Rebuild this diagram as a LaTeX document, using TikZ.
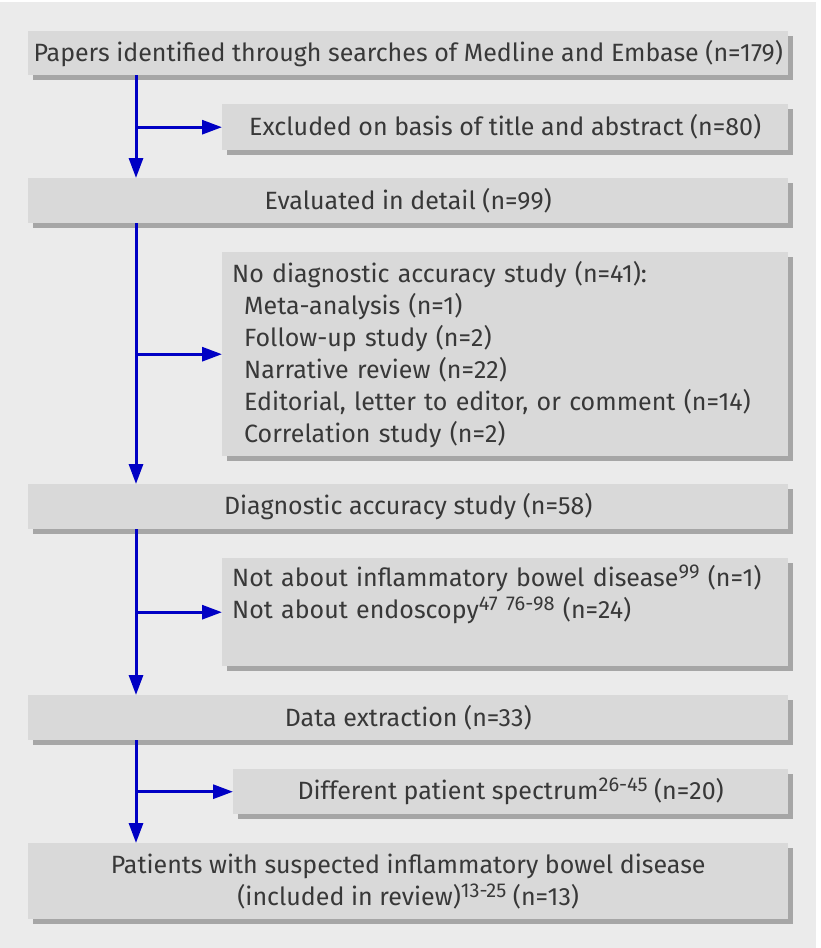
\documentclass[tikz,border=0pt]{standalone}
\usepackage{fontspec}
\setmainfont{Fira Sans}
\usetikzlibrary{arrows.meta,shadows}
\definecolor{panel}{HTML}{EBEBEB}
\definecolor{boxfill}{HTML}{D9D9D9}
\definecolor{shadowc}{HTML}{A6A6A6}
\definecolor{txt}{HTML}{383838}
\definecolor{arrowc}{HTML}{0000C4}
\tikzset{
  box/.style={anchor=north west, fill=boxfill, draw=none, inner sep=0pt,
    text=txt, font=\fontsize{25}{32}\selectfont, align=center,
    drop shadow={shadow xshift=5pt, shadow yshift=-5pt, fill=shadowc, opacity=1}},
  arr/.style={draw=arrowc, line width=3pt, -{Triangle[length=20pt,width=14pt]}}
}
\newcommand{\sref}[1]{\raisebox{8pt}{\fontsize{20}{20}\selectfont #1}}
\newcommand{\ind}{\hspace*{12pt}}
\begin{document}
\begin{tikzpicture}[x=1pt,y=-1pt]
\useasboundingbox (0,0) rectangle (820,948);
\fill[panel] (0,2) rectangle (816,948);
\node[box, minimum width=760pt, minimum height=44pt] (b1) at (28,31)
  {Papers identified through searches of Medline and Embase (n=179)};
\node[box, minimum width=566pt, minimum height=46pt] (b2) at (222,104)
  {Excluded on basis of title and abstract (n=80)};
\node[box, minimum width=760pt, minimum height=45pt] (b3) at (28,178)
  {Evaluated in detail (n=99)};
\node[box, minimum width=566pt, minimum height=204pt, text width=546pt, inner xsep=10pt, align=left] (b4) at (222,252)
  {No diagnostic accuracy study (n=41):\\
   \ind Meta-analysis (n=1)\\
   \ind Follow-up study (n=2)\\
   \ind Narrative review (n=22)\\
   \ind Editorial, letter to editor, or comment (n=14)\\
   \ind Correlation study (n=2)};
\node[box, minimum width=760pt, minimum height=45pt] (b5) at (28,484)
  {Diagnostic accuracy study (n=58)};
\node[box, minimum width=566pt, minimum height=108pt, text width=546pt, inner xsep=10pt, align=left] (b6) at (222,558)
  {Not about inflammatory bowel disease\sref{99} (n=1)\\
   Not about endoscopy\sref{47 76-98} (n=24)\\
   \strut};
\node[box, minimum width=760pt, minimum height=45pt] (b7) at (28,695)
  {Data extraction (n=33)};
\node[box, minimum width=555pt, minimum height=45pt] (b8) at (233,769)
  {Different patient spectrum\sref{26-45} (n=20)};
\node[box, minimum width=760pt, minimum height=76pt] (b9) at (28,843)
  {Patients with suspected inflammatory bowel disease\\
   (included in review)\sref{13-25} (n=13)};
\coordinate (tx) at (136,0);
\draw[arr] (b1.south -| tx) -- (b3.north -| tx);
\draw[arr] (b2.west -| tx) -- (b2.west);
\draw[arr] (b3.south -| tx) -- (b5.north -| tx);
\draw[arr] (b4.west -| tx) -- (b4.west);
\draw[arr] (b5.south -| tx) -- (b7.north -| tx);
\draw[arr] (b6.west -| tx) -- (b6.west);
\draw[arr] (b7.south -| tx) -- (b9.north -| tx);
\draw[arr] (b8.west -| tx) -- (b8.west);
\end{tikzpicture}
\end{document}
